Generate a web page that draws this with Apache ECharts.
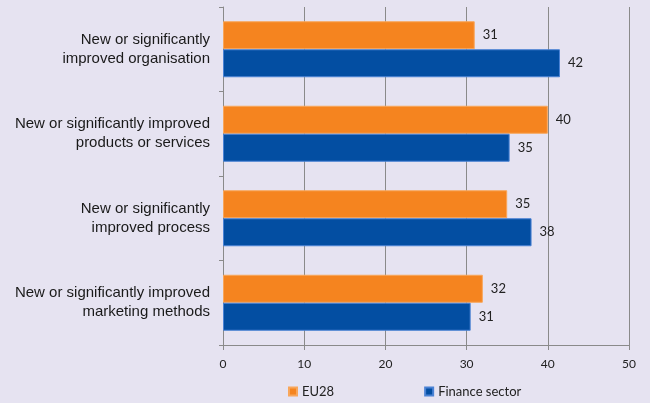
<!DOCTYPE html>
<html><head><meta charset="utf-8">
<script src="https://cdn.jsdelivr.net/npm/echarts@6/dist/echarts.min.js"></script>
<style>html,body{margin:0;padding:0;background:#e6e3f1;}#c{width:650px;height:403px;}</style>
</head><body><div id="c"></div>
<script>
const categories = [
  "New or significantly\nimproved organisation",
  "New or significantly improved\nproducts or services",
  "New or significantly\nimproved process",
  "New or significantly improved\nmarketing methods"
];
const eu28 = [31, 40, 35, 32];
const eu28Labels = ["31", "40", "35", "32"];
const finance = [41.5, 35.3, 38, 30.5];
const financeLabels = ["42", "35", "38", "31"];
const xTicks = [0, 10, 20, 30, 40, 50];

const chart = echarts.init(document.getElementById('c'), null, {renderer: 'canvas'});
const valFont = 'Lato, "Open Sans", sans-serif';
chart.setOption({
  backgroundColor: '#e6e3f1',
  animation: false,
  grid: {left: 223, right: 21, top: 7, bottom: 58, containLabel: false},
  legend: {
    left: 288, top: 385, padding: 0, itemWidth: 8, itemHeight: 8, itemGap: 90, icon: 'rect',
    textStyle: {fontFamily: valFont, fontSize: 13, color: '#222'},
    data: ['EU28', 'Finance sector']
  },
  xAxis: {
    type: 'value', min: xTicks[0], max: xTicks[xTicks.length - 1], interval: 10,
    axisLine: {show: true, lineStyle: {color: '#8a8a8a'}},
    axisTick: {show: true, length: 5, lineStyle: {color: '#8a8a8a'}},
    axisLabel: {fontFamily: valFont, fontSize: 12, color: '#222', margin: 13},
    splitLine: {show: true, lineStyle: {color: '#8a8a8a', width: 1}}
  },
  yAxis: {
    type: 'category', data: categories, inverse: true,
    axisLine: {show: true, lineStyle: {color: '#8a8a8a'}},
    axisTick: {show: true, length: 4, lineStyle: {color: '#8a8a8a'}},
    axisLabel: {fontFamily: '"Liberation Sans", Arial, sans-serif', fontSize: 15, color: '#1a1a1a', margin: 13, lineHeight: 19, align: 'right'}
  },
  series: [
    {
      name: 'EU28', type: 'bar', data: eu28, barWidth: 28, barGap: '0%',
      itemStyle: {color: '#f5841f', borderColor: '#f8a65a', borderWidth: 1},
      label: {show: true, position: 'right', distance: 8, fontFamily: valFont, fontSize: 13, color: '#222',
        formatter: p => eu28Labels[p.dataIndex]}
    },
    {
      name: 'Finance sector', type: 'bar', data: finance, barWidth: 28, barGap: '0%',
      itemStyle: {color: '#034ea2', borderColor: '#4a82d4', borderWidth: 1},
      label: {show: true, position: 'right', distance: 8, fontFamily: valFont, fontSize: 13, color: '#222',
        formatter: p => financeLabels[p.dataIndex]}
    }
  ]
});
</script></body></html>
